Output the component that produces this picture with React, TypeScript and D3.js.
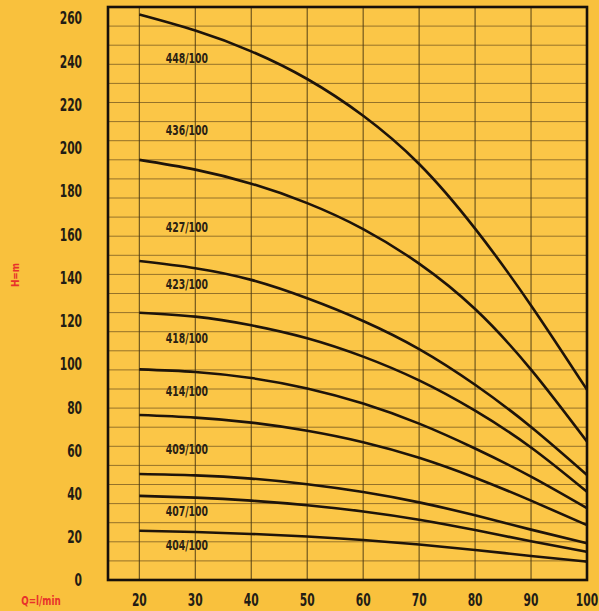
import React from "react";
import * as d3 from "d3";

// flow Q (l/min) sampled every 10
const flows = [20, 30, 40, 50, 60, 70, 80, 90, 100];

const models = ["448/100", "436/100", "427/100", "423/100", "418/100", "414/100", "409/100", "407/100", "404/100"];

// head H (m) per model
const heads = [
  [261.5, 254.1, 244.5, 231.7, 214.7, 192.4, 162.5, 127, 88],
  [194.3, 189.8, 183.3, 174.3, 162.3, 146.3, 125.3, 97.3, 64],
  [147.5, 144.2, 138.8, 130.3, 119.8, 106.8, 90.3, 70.8, 48.6],
  [123.6, 121.8, 117.8, 111.8, 103.3, 92.3, 78.3, 61.3, 40.8],
  [97.4, 96.2, 93.4, 88.6, 81.6, 72.3, 60.8, 47.8, 33.2],
  [76.3, 75.1, 72.8, 69, 63.7, 56.5, 47.3, 36.7, 25.4],
  [49, 48.4, 46.9, 44.3, 40.7, 35.9, 29.9, 23.3, 17],
  [38.9, 38.1, 36.7, 34.6, 31.7, 27.9, 23.1, 17.9, 13],
  [22.8, 22.2, 21.3, 20.1, 18.5, 16.4, 13.9, 11.1, 8.5],
];

// where each model name sits (head value)
const labelHeads = [241.3, 208, 163.4, 137, 111.8, 87.6, 60.6, 32, 16.2];
const labelFlow = 28.5;

const xTicks = [20, 30, 40, 50, 60, 70, 80, 90, 100];
const yTicks = [0, 20, 40, 60, 80, 100, 120, 140, 160, 180, 200, 220, 240, 260];

const font = "'DejaVu Sans Condensed', 'DejaVu Sans', sans-serif";

// condensed text: the original uses a very narrow face
function Narrow({ x, y, sx = 0.68, anchor = "middle", size, weight = 700, fill, rotate = 0, children }: any) {
  return (
    <g transform={`translate(${x},${y}) rotate(${rotate}) scale(${sx},1)`}>
      <text
        dy="0.36em"
        textAnchor={anchor}
        fontFamily={font}
        fontWeight={weight}
        fontSize={size}
        fill={fill}
      >
        {children}
      </text>
    </g>
  );
}

export default function App() {
  const width = 599;
  const height = 611;
  const xScale = d3.scaleLinear().domain([14.4, 100]).range([108, 587]);
  const yScale = d3.scaleLinear().domain([0, 265]).range([580, 7]);
  const [x0, x1] = xScale.range();
  const [y0, y1] = yScale.range();

  const hGrid = d3.range(1, 30).map((i) => (i * 265) / 30);

  const line = d3
    .line<number>()
    .x((_, i) => xScale(flows[i]))
    .y((d) => yScale(d))
    .curve(d3.curveNatural);

  return (
    <svg
      width={width}
      height={height}
      style={{ position: "absolute", left: 0, top: 0, display: "block" }}
    >
      <rect x={0} y={0} width={width} height={height} fill="#f9c13d" />
      <rect x={x0} y={y1} width={x1 - x0} height={y0 - y1} fill="#fbc647" />

      {/* grid */}
      {hGrid.map((v) => (
        <line
          key={"h" + v}
          x1={x0}
          x2={x1}
          y1={yScale(v)}
          y2={yScale(v)}
          stroke="#6a4f1c"
          strokeOpacity={0.7}
          strokeWidth={1}
        />
      ))}
      {xTicks.slice(0, -1).map((v) => (
        <line
          key={"v" + v}
          x1={xScale(v)}
          x2={xScale(v)}
          y1={y1}
          y2={y0}
          stroke="#4a3812"
          strokeOpacity={0.85}
          strokeWidth={1.1}
        />
      ))}

      {/* curves */}
      {heads.map((h, i) => (
        <path
          key={models[i]}
          d={line(h) || ""}
          fill="none"
          stroke="#1e140a"
          strokeWidth={2.6}
        />
      ))}

      {/* model labels */}
      {models.map((m, i) => (
        <Narrow
          key={m + "-l"}
          x={xScale(labelFlow)}
          y={yScale(labelHeads[i])}
          sx={0.74}
          size={14}
          weight={600}
          fill="#2a2113"
        >
          {m}
        </Narrow>
      ))}

      {/* frame */}
      <rect
        x={x0}
        y={y1}
        width={x1 - x0}
        height={y0 - y1}
        fill="none"
        stroke="#17100a"
        strokeWidth={2.6}
      />

      {/* axis labels */}
      {yTicks.map((t) => (
        <Narrow key={"y" + t} x={82} y={yScale(t)} anchor="end" size={18} sx={0.66} fill="#231c14">
          {t}
        </Narrow>
      ))}
      {xTicks.map((t) => (
        <Narrow key={"x" + t} x={xScale(t)} y={600} size={18} sx={0.66} fill="#231c14">
          {t}
        </Narrow>
      ))}

      <Narrow x={41} y={600} size={13} sx={0.75} fill="#e8322b">
        Q=l/min
      </Narrow>
      <Narrow x={15} y={275} rotate={-90} size={11} sx={0.9} fill="#e8322b">
        H=m
      </Narrow>
    </svg>
  );
}
